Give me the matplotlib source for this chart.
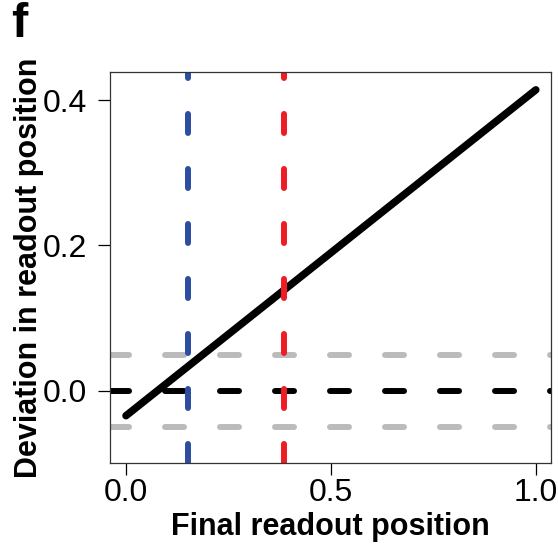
import matplotlib
matplotlib.use("Agg")
import matplotlib.pyplot as plt

plt.rcParams['font.family'] = ['Liberation Sans', 'DejaVu Sans']
plt.rcParams['lines.scale_dashes'] = False

# fitted line: deviation vs final readout position
final_pos = [0.0, 1.0]
deviation = [-0.034, 0.414]

# reference levels
zero_level = 0.0
tolerance = [-0.05, 0.05]

# marked readout positions
blue_pos = 0.151
red_pos = 0.385

x_ticks = [0.0, 0.5, 1.0]
x_tick_labels = ["0.0", "0.5", "1.0"]
y_ticks = [0.0, 0.2, 0.4]
y_tick_labels = ["0.0", "0.2", "0.4"]

DASH = (13.7, 25.9)

fig = plt.figure(figsize=(5.58, 5.50), dpi=100)
ax = fig.add_axes([110 / 558, 87 / 550, 441 / 558, 391 / 550])

for lvl in tolerance:
    ax.axhline(lvl, color="#bbbbbb", lw=4.3, dashes=DASH, dash_capstyle="round")
ax.axhline(zero_level, color="black", lw=4.3, dashes=DASH, dash_capstyle="round")

ax.plot(final_pos, deviation, color="black", lw=5.4, solid_capstyle="round")

ax.axvline(blue_pos, color="#2d4da0", lw=4.3, dashes=DASH, dash_capstyle="round")
ax.axvline(red_pos, color="#ee1c25", lw=4.3, dashes=DASH, dash_capstyle="round")

ax.set_xlim(-0.039, 1.037)
ax.set_ylim(-0.099, 0.4385)

ax.set_xticks(x_ticks)
ax.set_xticklabels(x_tick_labels)
ax.set_yticks(y_ticks)
ax.set_yticklabels(y_tick_labels)
ax.tick_params(axis="both", direction="out", length=8.6, width=0.9,
               labelsize=23, colors="black")
ax.tick_params(axis="x", pad=2)
ax.tick_params(axis="y", pad=8)

for sp in ax.spines.values():
    sp.set_linewidth(0.9)
    sp.set_color("#333333")

ax.set_xlabel("Final readout position", fontsize=22, fontweight="bold")
ax.set_ylabel("Deviation in readout position", fontsize=22, fontweight="bold")
ax.xaxis.set_label_coords(0.5, -0.125)
ax.yaxis.set_label_coords(-0.15, 0.5)

fig.text(11 / 558, 1 - 2 / 550, "f", fontsize=35, fontweight="bold",
         ha="left", va="top")

fig.savefig("out.png", dpi=100)
